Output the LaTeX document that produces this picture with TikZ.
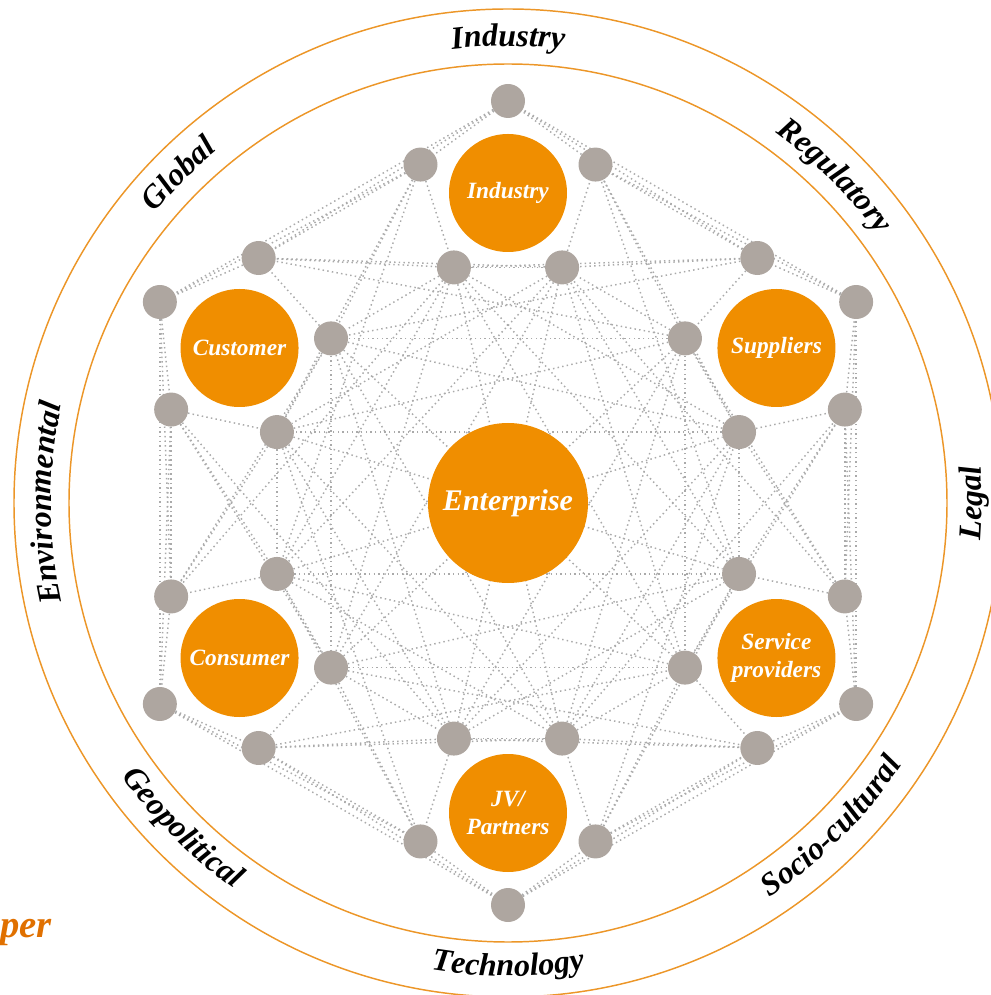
\documentclass[tikz,border=0pt]{standalone}
\usepackage{fontspec}
\setmainfont{Liberation Serif}
\usetikzlibrary{decorations.text,backgrounds,calc}
\definecolor{porange}{RGB}{240,142,0}
\definecolor{pgray}{RGB}{174,166,160}
\definecolor{plink}{RGB}{170,170,170}
\definecolor{pring}{RGB}{236,150,40}
\definecolor{ptext}{RGB}{224,112,0}
\newcommand\ringfont{\fontsize{24}{24}\selectfont\bfseries\itshape}
\begin{document}
\begin{tikzpicture}[x=0.75pt,y=0.75pt,
  hub/.style={circle,fill=porange,draw=none,minimum size=88.5pt,inner sep=0pt,text=white,
    font=\fontsize{17.5}{21}\selectfont\bfseries\itshape,align=center},
  ent/.style={hub,minimum size=120pt,font=\fontsize{22.5}{26}\selectfont\bfseries\itshape},
  sat/.style={circle,fill=pgray,draw=none,minimum size=25.5pt,inner sep=0pt},
  link/.style={draw=plink,line width=1.1pt,dash pattern=on 1.1pt off 2.4pt},
  ring/.style={draw=pring,line width=1.1pt},
  ringlabel/.style={decorate,decoration={text along path,text align=center,text={|\ringfont|#1}}}]
\useasboundingbox (-508,-492) rectangle (483,503);
\clip (-508,-492) rectangle (483,503);

% rings
\draw[ring] (0,0) circle[radius=494];
\draw[ring] (0,0) circle[radius=439];

% ring labels (clockwise: tops outward)
\path[ringlabel=Industry] (120:457) arc[start angle=120,end angle=60,radius=457];
\path[ringlabel=Regulatory] (75:457) arc[start angle=75,end angle=15,radius=457];
\path[ringlabel=Global] (165:457) arc[start angle=165,end angle=105,radius=457];
\path[ringlabel=Environmental] (210:457) arc[start angle=210,end angle=150,radius=457];
% counter-clockwise: tops inward
\path[ringlabel=Legal] (-30:474) arc[start angle=-30,end angle=30,radius=474];
\path[ringlabel=Technology] (240:473) arc[start angle=240,end angle=300,radius=473];
\path[ringlabel=Socio-cultural] (285:473) arc[start angle=285,end angle=345,radius=473];
\path[ringlabel=Geopolitical] (195:473) arc[start angle=195,end angle=255,radius=473];

% satellites
\foreach \k in {0,...,5}{
  \pgfmathsetmacro\th{90+60*\k}
  \foreach \j in {0,...,4}{
    \pgfmathsetmacro\ph{\th+72*\j}
    \node[sat] (G\k-\j) at ($(\th:310)+(\ph:92)$) {};
  }
}

% hubs
\node[hub] (ind) at (90:310) {Industry};
\node[hub] (cus) at (150:310) {Customer};
\node[hub] (con) at (210:310) {Consumer};
\node[hub] (jv) at (270:310) {JV/\\Partners};
\node[hub] (svc) at (330:310) {Service\\providers};
\node[hub] (sup) at (30:310) {Suppliers};
\node[ent] (ent) at (0,0) {Enterprise};

% network
\begin{pgfonlayer}{background}
\foreach \k in {0,...,5}{
  \pgfmathtruncatemacro\ka{mod(\k+1,6)}
  \pgfmathtruncatemacro\kb{mod(\k+2,6)}
  \foreach \p/\q in {0/1,1/2,2/3,3/4,4/0} \draw[link] (G\k-\p) -- (G\k-\q);
  \foreach \p/\q in {0/0,1/4,1/3,2/4,2/3,3/2,3/4,1/2,0/4,1/0} \draw[link] (G\k-\p) -- (G\ka-\q);
  \foreach \p/\q in {3/2,2/3,3/3,2/2,1/3,2/4} \draw[link] (G\k-\p) -- (G\kb-\q);
}
\foreach \k in {0,1,2}{
  \pgfmathtruncatemacro\kc{\k+3}
  \draw[link] (G\k-2) -- (G\kc-2);
  \draw[link] (G\k-3) -- (G\kc-3);
}
\end{pgfonlayer}

% caption fragment at the left edge
\node[anchor=base east,inner sep=0pt,text=ptext,font=\fontsize{29}{29}\selectfont\bfseries\itshape] (per) at (-456,-434) {per};
\end{tikzpicture}
\end{document}
